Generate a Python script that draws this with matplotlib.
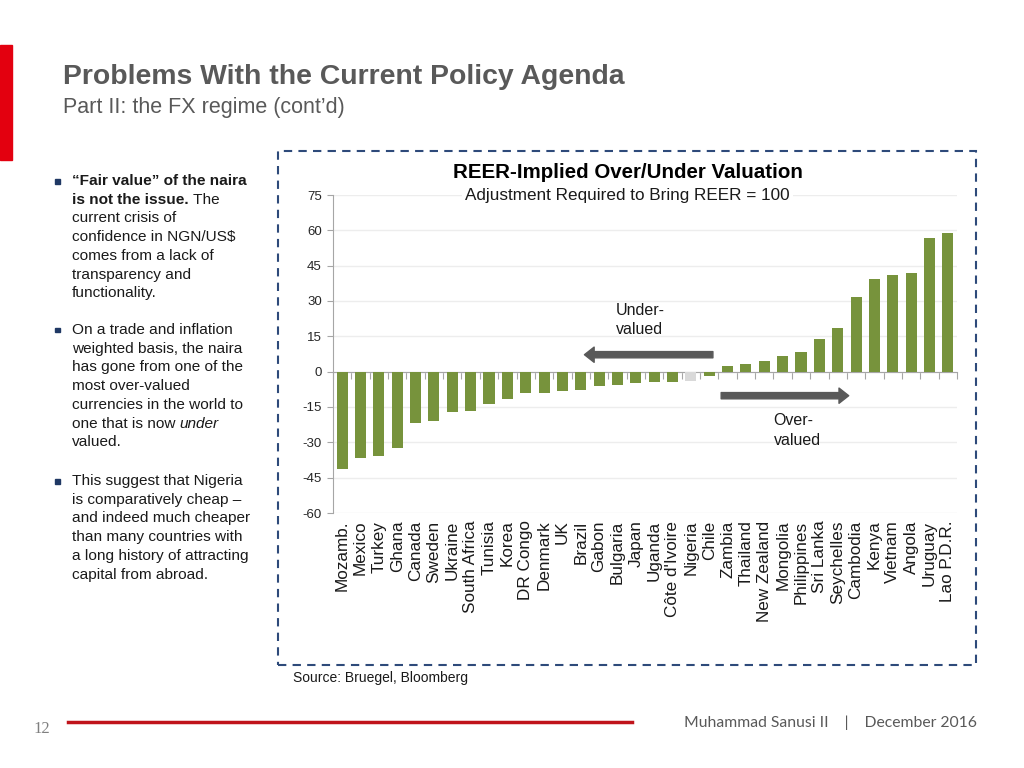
#!/usr/bin/env python3
import matplotlib
matplotlib.use('Agg')
import matplotlib.pyplot as plt
from matplotlib.patches import Rectangle
from matplotlib.lines import Line2D

# Chart data: REER-implied over/under valuation (%)
countries = ['Mozamb.', 'Mexico', 'Turkey', 'Ghana', 'Canada', 'Sweden', 'Ukraine',
             'South Africa', 'Tunisia', 'Korea', 'DR Congo', 'Denmark', 'UK', 'Brazil',
             'Gabon', 'Bulgaria', 'Japan', 'Uganda', "Côte d'Ivoire", 'Nigeria', 'Chile',
             'Zambia', 'Thailand', 'New Zealand', 'Mongolia', 'Philippines', 'Sri Lanka',
             'Seychelles', 'Cambodia', 'Kenya', 'Vietnam', 'Angola', 'Uruguay', 'Lao P.D.R.']
values = [-41.2, -36.5, -35.6, -32.6, -21.8, -20.8, -17.3,
          -16.8, -13.6, -11.4, -9.2, -9.2, -8.0, -7.9,
          -6.0, -5.5, -5.0, -4.5, -4.2, -3.8, -1.8,
          2.5, 3.1, 4.4, 6.8, 8.2, 13.8,
          18.6, 31.9, 39.5, 41.1, 41.7, 56.8, 58.9]
highlight = 'Nigeria'
y_ticks = [75, 60, 45, 30, 15, 0, -15, -30, -45, -60]

# Slide text
title = 'Problems With the Current Policy Agenda'
subtitle = 'Part II: the FX regime (cont\u2019d)'
chart_title = 'REER-Implied Over/Under Valuation'
chart_subtitle = 'Adjustment Required to Bring REER = 100'
source = 'Source: Bruegel, Bloomberg'
footer = 'Muhammad Sanusi II    |    December 2016'
page = '12'

# Bullets: list of lines, each line a list of (text, weight, style) pieces
bullets = [
    [[('\u201cFair value\u201d of the naira', 'bold', 'normal')],
     [('is not the issue.', 'bold', 'normal'), (' The', 'normal', 'normal')],
     [('current crisis of', 'normal', 'normal')],
     [('confidence in NGN/US$', 'normal', 'normal')],
     [('comes from a lack of', 'normal', 'normal')],
     [('transparency and', 'normal', 'normal')],
     [('functionality.', 'normal', 'normal')]],
    [[('On a trade and inflation', 'normal', 'normal')],
     [('weighted basis, the naira', 'normal', 'normal')],
     [('has gone from one of the', 'normal', 'normal')],
     [('most over-valued', 'normal', 'normal')],
     [('currencies in the world to', 'normal', 'normal')],
     [('one that is now ', 'normal', 'normal'), ('under', 'normal', 'italic')],
     [('valued.', 'normal', 'normal')]],
    [[('This suggest that Nigeria', 'normal', 'normal')],
     [('is comparatively cheap \u2013', 'normal', 'normal')],
     [('and indeed much cheaper', 'normal', 'normal')],
     [('than many countries with', 'normal', 'normal')],
     [('a long history of attracting', 'normal', 'normal')],
     [('capital from abroad.', 'normal', 'normal')]],
]
bullet_tops = [181, 330, 481]  # pixel rows of first line of each bullet

BAR_COLOR = '#77933C'
HIGHLIGHT_COLOR = '#D9D9D9'
ARROW_COLOR = '#595959'
TEXT_GRAY = '#595959'

plt.rcParams['font.family'] = ['Liberation Sans', 'DejaVu Sans']

W, H = 1024, 768


def fx(px):
    return px / W


def fy(py):
    return 1 - py / H


def draw_slide(fig):
    """Slide decorations: red tab, titles, box, footer."""
    fig.patches.append(Rectangle((0, fy(160)), fx(12), 115 / H, transform=fig.transFigure,
                                 color='#E3000F', zorder=0))
    fig.text(fx(63), fy(77), title, fontsize=20.4, fontweight='bold', color=TEXT_GRAY, va='center')
    fig.text(fx(63), fy(107), subtitle, fontsize=15.5, color=TEXT_GRAY, va='center')

    # dashed frame around the chart
    fig.patches.append(Rectangle((fx(278), fy(665)), fx(976 - 278), (665 - 151) / H,
                                 transform=fig.transFigure, fill=False, edgecolor='#2E4A7A',
                                 linewidth=1.5, linestyle=(0, (4, 3)), zorder=0))
    fig.text(fx(293), fy(678), source, fontsize=10, color='#1a1a1a', va='center')

    # footer
    fig.lines.append(Line2D([fx(68), fx(632)], [fy(722), fy(722)], transform=fig.transFigure,
                            color='#C0141B', linewidth=2.5))
    fig.text(fx(33), fy(729), page, fontsize=12, family='Liberation Serif', color='#7F7F7F', va='center')
    fig.text(fx(977), fy(723), footer, fontsize=11.3, family='Lato', color='#595959',
             va='center', ha='right')


def draw_bullets(fig):
    """Left-hand bullet text with mixed bold/italic runs."""
    renderer = fig.canvas.get_renderer()
    line_step = 18.7
    for lines, top in zip(bullets, bullet_tops):
        fig.patches.append(Rectangle((fx(55), fy(top + 2.5)), fx(5), 5 / H, transform=fig.transFigure,
                                     color='#1F3864'))
        for k, pieces in enumerate(lines):
            y = fy(top + k * line_step)
            x = fx(72)
            for txt, weight, style in pieces:
                t = fig.text(x, y, txt, fontsize=11.1, fontweight=weight, fontstyle=style,
                             color='#1a1a1a', va='center')
                bb = t.get_window_extent(renderer=renderer)
                x = bb.x1 / fig.bbox.width


def draw_chart(fig):
    ax = fig.add_axes([fx(333), fy(513), fx(957 - 333), (513 - 195) / H])
    xs = list(range(len(countries)))
    colors = [HIGHLIGHT_COLOR if c == highlight else BAR_COLOR for c in countries]
    ax.bar(xs, values, width=0.6, color=colors, zorder=3)

    ax.set_xlim(-0.5, len(countries) - 0.5)
    ax.set_ylim(min(y_ticks), max(y_ticks))
    ax.set_yticks(y_ticks)
    ax.set_yticklabels([str(v) for v in y_ticks], fontsize=9.5, color='#262626')
    ax.tick_params(axis='y', length=4, width=0.8, color='#A6A6A6', pad=4)
    ax.grid(axis='y', color='#EDEDED', linewidth=1, zorder=0)

    # x axis sits at zero with boundary ticks
    ax.spines['bottom'].set_position(('data', 0))
    ax.spines['bottom'].set_color('#A6A6A6')
    ax.spines['left'].set_color('#A6A6A6')
    ax.spines['top'].set_visible(False)
    ax.spines['right'].set_visible(False)
    ax.set_xticks([i - 0.5 for i in xs] + [len(xs) - 0.5])
    ax.set_xticklabels([])
    ax.tick_params(axis='x', length=5, width=0.8, color='#A6A6A6', direction='out')

    # category labels below the plot
    for i, name in zip(xs, countries):
        ax.text(i, min(y_ticks) - 3.2, name, rotation=90, ha='center', va='top',
                fontsize=12.3, color='#1a1a1a', clip_on=False)

    # chart titles
    ax.text(0.472, 1.07, chart_title, transform=ax.transAxes, ha='center', va='center',
            fontsize=14.8, fontweight='bold', color='black')
    ax.text(0.472, 0.997, chart_subtitle, transform=ax.transAxes, ha='center', va='center',
            fontsize=12.3, color='#1a1a1a',
            bbox=dict(facecolor='white', edgecolor='none', pad=2))

    # direction arrows and labels
    ax.annotate('', xy=(13.2, 7.2), xytext=(20.2, 7.2),
                arrowprops=dict(arrowstyle='simple,head_width=1.1,head_length=0.7,tail_width=0.45',
                                color=ARROW_COLOR, shrinkA=0, shrinkB=0), zorder=4)
    ax.annotate('', xy=(27.6, -10.2), xytext=(20.65, -10.2),
                arrowprops=dict(arrowstyle='simple,head_width=1.1,head_length=0.7,tail_width=0.45',
                                color=ARROW_COLOR, shrinkA=0, shrinkB=0), zorder=4)
    ax.text(14.9, 21.8, 'Under-\nvalued', fontsize=11.5, color='#1a1a1a', va='center',
            linespacing=1.35)
    ax.text(23.5, -25.0, 'Over-\nvalued', fontsize=11.5, color='#1a1a1a', va='center',
            linespacing=1.35)
    return ax


def main():
    fig = plt.figure(figsize=(W / 100, H / 100), dpi=100)
    fig.patch.set_facecolor('white')
    draw_slide(fig)
    draw_chart(fig)
    draw_bullets(fig)
    fig.savefig('out.png', dpi=100, facecolor='white')
    plt.close(fig)


if __name__ == "__main__":
    main()
